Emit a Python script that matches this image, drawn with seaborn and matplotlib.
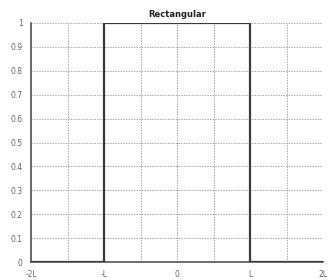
import matplotlib
matplotlib.use("Agg")
import matplotlib.pyplot as plt
import seaborn as sns
import pandas as pd
import numpy as np

# data (x in units of L)
x_vals = [-2, -1, -1, 1, 1, 2]
y_vals = [0, 0, 1, 1, 0, 0]
x_ticks = [-2, -1, 0, 1, 2]
x_ticklabels = ["-2L", "-L", "0", "L", "2L"]
y_ticks = [0, 0.1, 0.2, 0.3, 0.4, 0.5, 0.6, 0.7, 0.8, 0.9, 1]
y_ticklabels = ["0", "0.1", "0.2", "0.3", "0.4", "0.5", "0.6", "0.7", "0.8", "0.9", "1"]

sns.set_style("white")
plt.rcParams['font.family'] = ['DejaVu Sans']

fig = plt.figure(figsize=(3.3, 2.8), dpi=100)
ax = fig.add_axes([31/330, 18/280, 292/330, 239/280])

df = pd.DataFrame({"x": x_vals, "y": y_vals})
sns.lineplot(data=df, x="x", y="y", sort=False, estimator=None, ax=ax,
             color="#3a3a3a", lw=1.6, zorder=5)

ax.set_xlim(-2, 2)
ax.set_ylim(0, 1)
ax.set_xticks(x_ticks)
ax.set_xticklabels(x_ticklabels)
ax.set_yticks(y_ticks)
ax.set_yticklabels(y_ticklabels)
ax.set_xticks(np.arange(-2, 2.01, 0.5), minor=True)
ax.grid(True, which="both", axis="x", color="#a8a8a8", linestyle=(0, (1.5, 1.2)), lw=0.7)
ax.grid(True, which="major", axis="y", color="#a8a8a8", linestyle=(0, (1.5, 1.2)), lw=0.7)
ax.tick_params(axis="both", which="major", labelsize=5.5, colors="#666666", length=2, direction="in", pad=6)
ax.tick_params(axis="both", which="minor", length=0)
ax.set_xlabel("")
ax.set_ylabel("")
for s in ["top", "right"]:
    ax.spines[s].set_visible(False)
for s in ["left", "bottom"]:
    ax.spines[s].set_color("#555555")
    ax.spines[s].set_linewidth(1.2)
ax.set_title("Rectangular", fontsize=6, fontweight="bold", color="#222222", pad=4)

fig.savefig("out.png", dpi=100)
